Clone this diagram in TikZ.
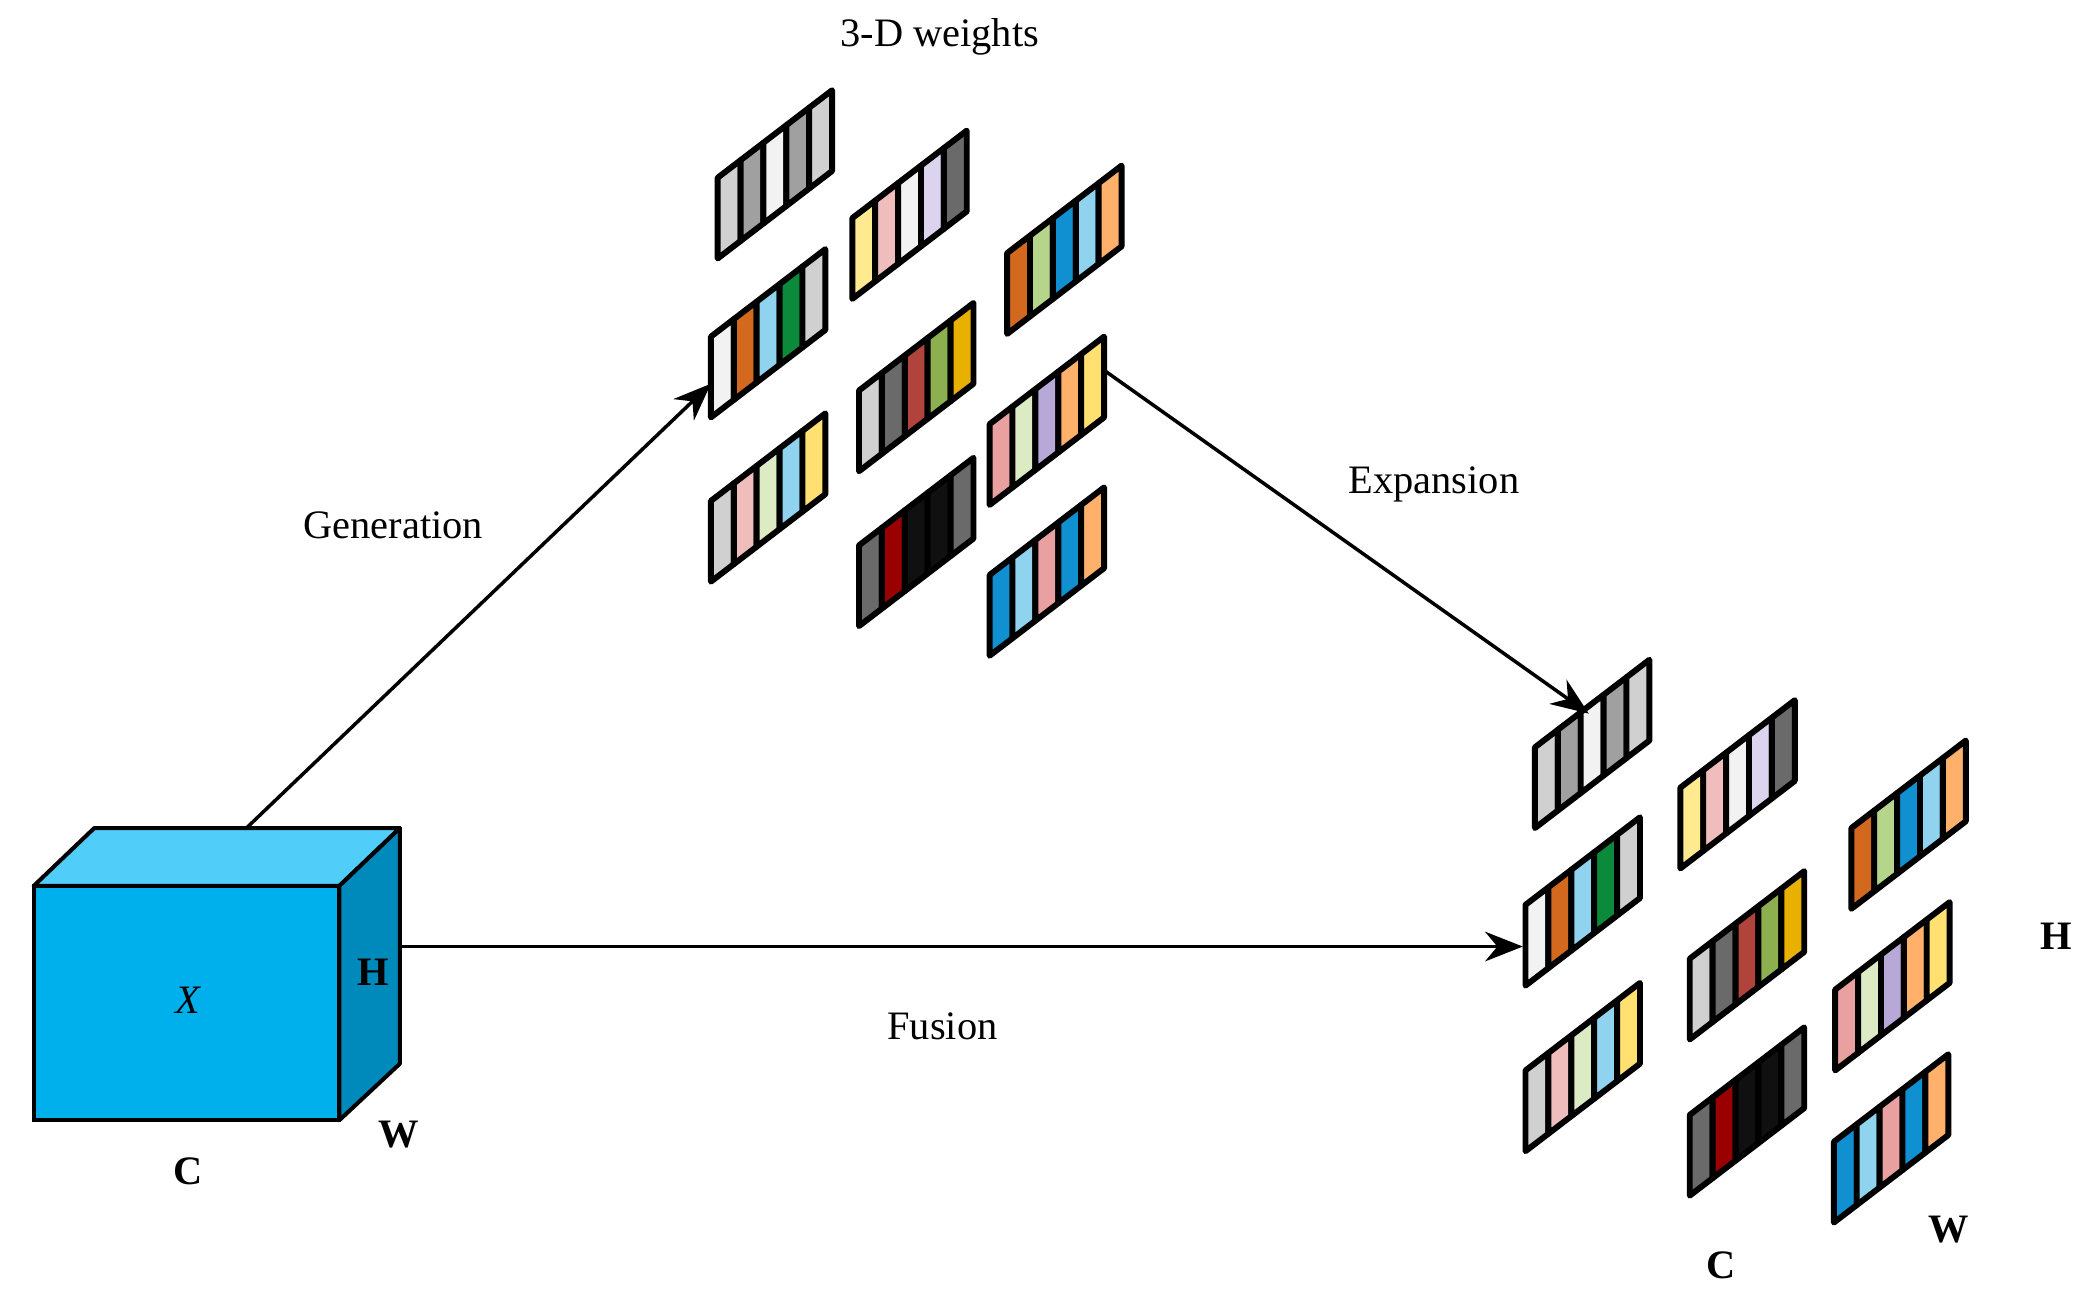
\documentclass[tikz,border=0pt]{standalone}
\usepackage{fontspec}
\setmainfont{Liberation Serif}
\usetikzlibrary{arrows.meta}
\definecolor{cLG}{HTML}{D0D0D0}
\definecolor{cG}{HTML}{A0A0A0}
\definecolor{cW}{HTML}{F2F2F2}
\definecolor{cDG}{HTML}{6A6A6A}
\definecolor{cOr}{HTML}{D2691E}
\definecolor{cSky}{HTML}{8FD3EE}
\definecolor{cGrn}{HTML}{0A8A3A}
\definecolor{cPk}{HTML}{F0BDBD}
\definecolor{cLGr}{HTML}{DCEBC4}
\definecolor{cYl}{HTML}{FFE070}
\definecolor{cLYl}{HTML}{FFEA90}
\definecolor{cLav}{HTML}{DCD4EE}
\definecolor{cBr}{HTML}{B0443C}
\definecolor{cOl}{HTML}{8CB050}
\definecolor{cGold}{HTML}{E8B000}
\definecolor{cDR}{HTML}{9A0000}
\definecolor{cBk}{HTML}{101010}
\definecolor{cGr2}{HTML}{B5D58A}
\definecolor{cBl}{HTML}{1090D0}
\definecolor{cLO}{HTML}{FFB06A}
\definecolor{cPk2}{HTML}{E8A0A0}
\definecolor{cLav2}{HTML}{B8A8D8}
\definecolor{cubeF}{HTML}{00B0EC}
\definecolor{cubeT}{HTML}{50CDF8}
\definecolor{cubeS}{HTML}{0089BB}
\newcommand{\grp}[3]{%
  \foreach \c [count=\i from 0] in {#3}{%
    \fill[\c,draw=black,line width=2.2pt,line join=round]
      ({#1+17*\i},{#2-13*\i}) -- ++(17,-13) -- ++(0,-60) -- ++(-17,13) -- cycle;
  }}
\tikzset{lab/.style={font=\fontsize{15}{18}\selectfont},
  conn/.style={line width=1.3pt,-{Stealth[length=14pt,width=11pt]}}}
\begin{document}
\begin{tikzpicture}[x=0.5pt,y=-0.5pt]
\useasboundingbox (0,0) rectangle (1553,975);
% cube
\fill[cubeT,draw=black,line width=1.5pt,line join=round] (25,658) -- (70,615) -- (297,615) -- (252,658) -- cycle;
\fill[cubeS,draw=black,line width=1.5pt,line join=round] (252,658) -- (297,615) -- (297,790) -- (252,832) -- cycle;
\fill[cubeF,draw=black,line width=1.5pt] (25,658) rectangle (252,832);
\node[lab] (X) at (140,743) {\textit{X}};
\node[lab] (H1) at (277,722) {\textbf{H}};
\node[lab] (W1) at (296,843) {\textbf{W}};
\node[lab] (C1) at (140,870) {\textbf{C}};
\coordinate (cubetop) at (183,615);
\coordinate (cuberight) at (297,703);
% top weights
\grp{533}{192}{cLG,cG,cW,cG,cLG}
\grp{528}{310}{cW,cOr,cSky,cGrn,cLG}
\grp{528}{432}{cLG,cPk,cLGr,cSky,cYl}
\grp{633}{222}{cLYl,cPk,cW,cLav,cDG}
\grp{638}{350}{cLG,cDG,cBr,cOl,cGold}
\grp{638}{465}{cDG,cDR,cBk,cBk,cDG}
\grp{748}{248}{cOr,cGr2,cBl,cSky,cLO}
\grp{735}{375}{cPk2,cLGr,cLav2,cLO,cYl}
\grp{735}{487}{cBl,cSky,cPk2,cBl,cLO}
% bottom weights
\grp{1140}{615}{cLG,cG,cW,cG,cLG}
\grp{1133}{732}{cW,cOr,cSky,cGrn,cLG}
\grp{1133}{855}{cLG,cPk,cLGr,cSky,cYl}
\grp{1248}{645}{cLYl,cPk,cW,cLav,cDG}
\grp{1255}{772}{cLG,cDG,cBr,cOl,cGold}
\grp{1255}{888}{cDG,cDR,cBk,cBk,cDG}
\grp{1375}{675}{cOr,cGr2,cBl,cSky,cLO}
\grp{1363}{795}{cPk2,cLGr,cLav2,cLO,cYl}
\grp{1362}{908}{cBl,cSky,cPk2,cBl,cLO}
\coordinate (topin) at (528,285);
\coordinate (topout) at (820,275);
\coordinate (botin) at (1180,530);
\coordinate (botfuse) at (1131,703);
\draw[conn] (cubetop) -- (topin);
\draw[conn] (topout) -- (botin);
\draw[conn] (cuberight) -- (botfuse);
\node[lab] (gen) at (292,390) {Generation};
\node[lab] (exp) at (1065,360) {Expansion};
\node[lab] (fus) at (700,762) {Fusion};
\node[lab] (wts) at (698,27) {3-D weights};
\node[lab] (H2) at (1527,695) {\textbf{H}};
\node[lab] (C2) at (1278,940) {\textbf{C}};
\node[lab] (W2) at (1447,913) {\textbf{W}};
\end{tikzpicture}
\end{document}
